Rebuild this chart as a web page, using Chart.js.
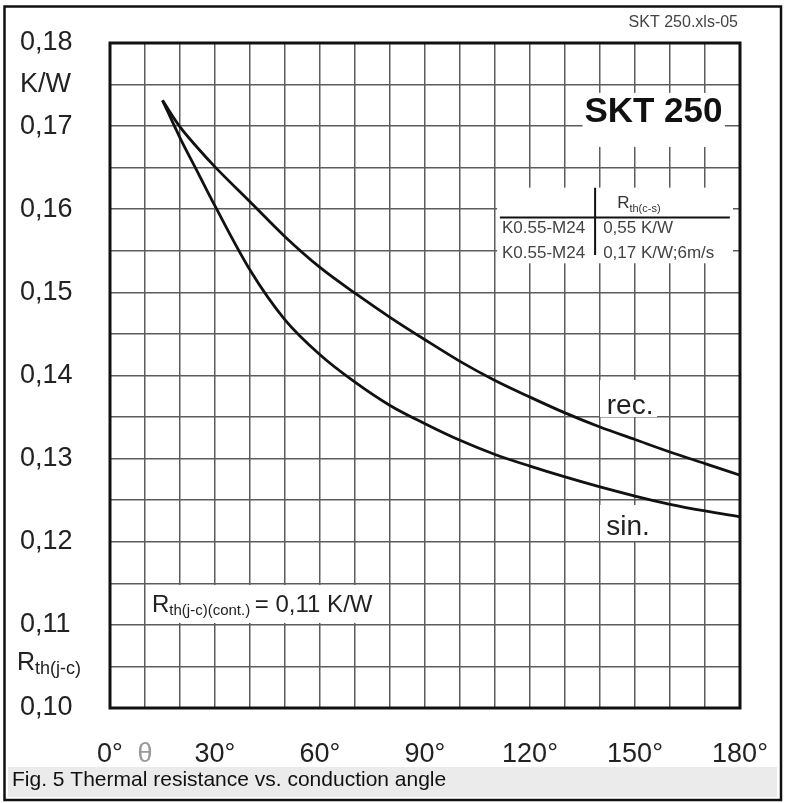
<!DOCTYPE html>
<html>
<head>
<meta charset="utf-8">
<script src="https://cdn.jsdelivr.net/npm/chart.js@4.4.1/dist/chart.umd.min.js"></script>
<style>
  html, body { margin: 0; padding: 0; background: #fff; }
  canvas { display: block; }
</style>
</head>
<body>
<canvas id="chart" width="791" height="803"></canvas>
<script>
const FONT = "'Liberation Sans', Arial, sans-serif";

// conduction angle in degrees, Rth(j-c) in K/W
const angles = [15, 20, 25, 30, 40, 50, 60, 70, 80, 90, 100, 110, 120, 130, 140, 150, 160, 170, 180];
const rthRec = [0.1731, 0.1699, 0.1674, 0.1651, 0.1609, 0.1567, 0.1530, 0.1499, 0.1470, 0.1443,
                0.1417, 0.1394, 0.1374, 0.1355, 0.1338, 0.1323, 0.1308, 0.1294, 0.1280];
const rthSin = [0.1731, 0.1686, 0.1645, 0.1604, 0.1527, 0.1467, 0.1425, 0.1392, 0.1364, 0.1342,
                0.1322, 0.1305, 0.1291, 0.1278, 0.1266, 0.1255, 0.1245, 0.1237, 0.1230];

const yTickValues = [0.18, 0.175, 0.17, 0.16, 0.15, 0.14, 0.13, 0.12, 0.11, 0.10];
const yTickText = ['0,18', 'K/W', '0,17', '0,16', '0,15', '0,14', '0,13', '0,12', '0,11', '0,10'];
const xTickValues = [0, 10, 30, 60, 90, 120, 150, 180];
const xTickText = ['0°', 'θ', '30°', '60°', '90°', '120°', '150°', '180°'];

const tableRows = [
  ['K0.55-M24', '0,55 K/W'],
  ['K0.55-M24', '0,17 K/W;6m/s']
];

function lookup(values, texts, v) {
  const i = values.findIndex(t => Math.abs(t - v) < 1e-6);
  return i < 0 ? '' : texts[i];
}

// main text with a subscript after it, returns end x
function drawSub(c, x, y, main, sub, size, subSize, drop) {
  c.font = `${size}px ${FONT}`;
  c.fillText(main, x, y);
  x += c.measureText(main).width;
  c.font = `${subSize}px ${FONT}`;
  c.fillText(sub, x, y + drop);
  return x + c.measureText(sub).width;
}

function whiteBox(c, x1, y1, x2, y2) {
  c.fillStyle = '#fff';
  c.fillRect(Math.min(x1, x2), Math.min(y1, y2), Math.abs(x2 - x1), Math.abs(y2 - y1));
}

const decor = {
  id: 'decor',
  beforeDraw(chart) {
    const c = chart.ctx;
    c.save();
    c.fillStyle = '#fff';
    c.fillRect(0, 0, chart.width, chart.height);
    // caption strip
    c.fillStyle = '#ebebeb';
    c.fillRect(8, 767, 769, 30);
    c.fillStyle = '#111';
    c.font = `21px ${FONT}`;
    c.textBaseline = 'alphabetic';
    c.fillText('Fig. 5 Thermal resistance vs. conduction angle', 12, 786);
    // file tag
    c.fillStyle = '#444';
    c.font = `16px ${FONT}`;
    c.textAlign = 'right';
    c.fillText('SKT 250.xls-05', 738, 27);
    // outer frame
    c.strokeStyle = '#111';
    c.lineWidth = 2.5;
    c.strokeRect(4.5, 6.5, 776.5, 793.5);
    c.restore();
  },
  beforeDatasetsDraw(chart) {
    const c = chart.ctx;
    const xs = chart.scales.x, ys = chart.scales.y;
    const X = v => xs.getPixelForValue(v);
    const Y = v => ys.getPixelForValue(v);
    const a = chart.chartArea;
    c.save();
    c.textBaseline = 'alphabetic';

    // SKT 250 label
    whiteBox(c, X(135), Y(0.1740), X(175.7), Y(0.1675));
    c.fillStyle = '#111';
    c.font = `bold 35px ${FONT}`;
    c.textAlign = 'right';
    c.fillText('SKT 250', X(175), Y(0.1705));

    // heatsink table
    whiteBox(c, X(110.6), Y(0.1626), X(178), Y(0.1535));
    c.strokeStyle = '#111';
    c.lineWidth = 2;
    c.beginPath();
    c.moveTo(X(138.6), Y(0.1626));
    c.lineTo(X(138.6), Y(0.1545));
    c.moveTo(X(111.4), Y(0.1590));
    c.lineTo(X(177.1), Y(0.1590));
    c.stroke();
    c.textAlign = 'left';
    c.fillStyle = '#333';
    drawSub(c, X(144.9), Y(0.16015), 'R', 'th(c-s)', 17, 11, 4);
    c.fillStyle = '#444';
    c.font = `17px ${FONT}`;
    const rowBase = [0.15714, 0.15414];
    tableRows.forEach((r, i) => {
      c.fillText(r[0], X(112), Y(rowBase[i]));
      c.fillText(r[1], X(140.9), Y(rowBase[i]));
    });

    // curve labels
    c.font = `28px ${FONT}`;
    c.textAlign = 'center';
    whiteBox(c, X(140), Y(0.13946), X(156.3), Y(0.13501));
    c.fillStyle = '#222';
    c.fillText('rec.', X(148.6), Y(0.13537));
    whiteBox(c, X(140), Y(0.12442), X(156), Y(0.12009));
    c.fillStyle = '#222';
    c.fillText('sin.', X(148), Y(0.12081));

    // continuous rating
    whiteBox(c, X(10.9), Y(0.1148), X(76.6), Y(0.11023));
    c.fillStyle = '#222';
    c.textAlign = 'left';
    const ex = drawSub(c, X(12), Y(0.11155), 'R', 'th(j-c)(cont.)', 24, 15, 3);
    c.font = `24px ${FONT}`;
    c.fillText(' = 0,11 K/W', ex - 2, Y(0.11155));

    // plot border
    c.strokeStyle = '#111';
    c.lineWidth = 3;
    c.strokeRect(a.left, a.top, a.right - a.left, a.bottom - a.top);
    c.restore();
  },
  afterDraw(chart) {
    const c = chart.ctx;
    const ys = chart.scales.y;
    c.save();
    c.fillStyle = '#222';
    c.textAlign = 'left';
    c.textBaseline = 'alphabetic';
    const y = ys.getPixelForValue(0.105);
    drawSub(c, 17, y + 4, 'R', 'th(j-c)', 25, 18, 4);
    c.restore();
  }
};

new Chart(document.getElementById('chart'), {
  type: 'line',
  data: {
    datasets: [
      {
        label: 'rec.',
        data: angles.map((a, i) => ({ x: a, y: rthRec[i] })),
        borderColor: '#111',
        borderWidth: 2.8,
        pointRadius: 0,
        cubicInterpolationMode: 'monotone',
        fill: false
      },
      {
        label: 'sin.',
        data: angles.map((a, i) => ({ x: a, y: rthSin[i] })),
        borderColor: '#111',
        borderWidth: 2.8,
        pointRadius: 0,
        cubicInterpolationMode: 'monotone',
        fill: false
      }
    ]
  },
  options: {
    responsive: false,
    animation: false,
    events: [],
    layout: { padding: { left: 20, top: 43, right: 51, bottom: 0 } },
    plugins: {
      legend: { display: false },
      tooltip: { enabled: false }
    },
    scales: {
      x: {
        type: 'linear',
        min: 0,
        max: 180,
        afterFit: s => { s.height = 95; },
        border: { display: false },
        // invisible tick marks push the labels down without widening the side padding
        grid: { color: '#5c5c5c', lineWidth: 1.5, drawTicks: true, tickLength: 30, tickColor: 'rgba(0,0,0,0)' },
        ticks: {
          stepSize: 10,
          autoSkip: false,
          maxRotation: 0,
          padding: 0,
          font: { family: FONT, size: 27 },
          color: ctx => (ctx.tick && ctx.tick.value === 10 ? '#999' : '#222'),
          callback: v => lookup(xTickValues, xTickText, v)
        }
      },
      y: {
        type: 'linear',
        min: 0.10,
        max: 0.18,
        afterFit: s => { s.width = 90; },
        border: { display: false },
        grid: { color: '#5c5c5c', lineWidth: 1.5, drawTicks: false },
        ticks: {
          stepSize: 0.005,
          autoSkip: false,
          crossAlign: 'far',
          font: { family: FONT, size: 27 },
          color: '#222',
          callback: v => lookup(yTickValues, yTickText, v)
        }
      }
    }
  },
  plugins: [decor]
});
</script>
</body>
</html>
